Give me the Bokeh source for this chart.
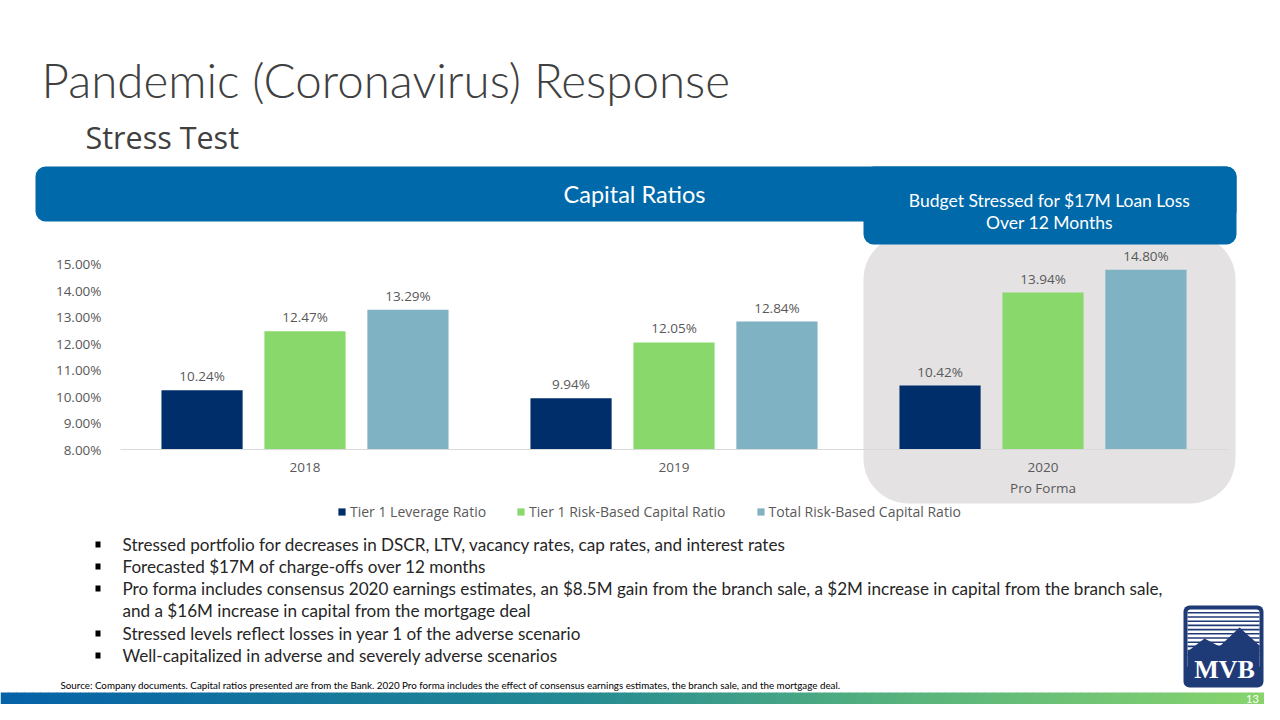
from bokeh.plotting import figure
from bokeh.models import (ColumnDataSource, Range1d, FixedTicker, PrintfTickFormatter, LinearAxis,
                          LabelSet, Label, BoxAnnotation, PolyAnnotation, Legend, LegendItem)
from bokeh.transform import dodge
from bokeh.core.properties import value
from bokeh.embed import file_html
from bokeh.resources import INLINE

# ---------------- data ----------------
years = ["2018", "2019", "2020\nPro Forma"]
series_names = ["Tier 1 Leverage Ratio", "Tier 1 Risk-Based Capital Ratio", "Total Risk-Based Capital Ratio"]
tier1_leverage = [10.24, 9.94, 10.42]
tier1_risk_based = [12.47, 12.05, 13.94]
total_risk_based = [13.29, 12.84, 14.80]
y_ticks = [8, 9, 10, 11, 12, 13, 14, 15]

title_text = "Pandemic (Coronavirus) Response"
subtitle_text = "Stress Test"
banner_text = "Capital Ratios"
callout_lines = ["Budget Stressed for $17M Loan Loss", "Over 12 Months"]
bullets = [
    ["Stressed portfolio for decreases in DSCR, LTV, vacancy rates, cap rates, and interest rates"],
    ["Forecasted $17M of charge-offs over 12 months"],
    ["Pro forma includes consensus 2020 earnings estimates, an $8.5M gain from the branch sale, a $2M increase in capital from the branch sale,",
     "and a $16M increase in capital from the mortgage deal"],
    ["Stressed levels reflect losses in year 1 of the adverse scenario"],
    ["Well-capitalized in adverse and severely adverse scenarios"],
]
footnote_text = ("Source: Company documents. Capital ratios presented are from the Bank. 2020 Pro forma includes "
                 "the effect of consensus earnings estimates, the branch sale, and the mortgage deal.")
page_number = "13"
logo_text = "MVB"

# ---------------- styles / geometry ----------------
C_DARK = "#002E6B"
C_GREEN = "#88D86B"
C_TEAL = "#7FB2C2"
C_BLUE = "#0069AA"
C_GREY = "#E4E2E3"
C_TXT = "#595959"
NAVY = "#1F3B77"
SANS = "Open Sans"
BODY = "Lato"

W, H = 1264, 704
CAT_W = 369.0          # px per category
PLOT_LEFT = 120.0      # canvas x of the chart's left edge
AXIS_Y = 449.0         # canvas y of the 8% baseline
PX_PER = 26.43         # px per percentage point
Y0 = 8

x_start = -0.5 - PLOT_LEFT / CAT_W
x_end = x_start + W / CAT_W
y_start = Y0 - (H - AXIS_Y) / PX_PER
y_end = Y0 + AXIS_Y / PX_PER

p = figure(width=W, height=H, x_range=Range1d(x_start, x_end), y_range=Range1d(y_start, y_end),
           output_backend="svg", toolbar_location=None, tools="",
           x_axis_type=None, y_axis_type=None,
           min_border=0, min_border_left=0, min_border_right=0, min_border_top=0, min_border_bottom=0)
p.background_fill_color = "white"
p.border_fill_color = "white"
p.outline_line_color = None

UNITS = "canvas"


def box(l, t, r, b, color, radius=0, level="annotation"):
    p.add_layout(BoxAnnotation(left=l, right=r, top=t, bottom=b,
                               left_units=UNITS, right_units=UNITS, top_units=UNITS, bottom_units=UNITS,
                               fill_color=color, fill_alpha=1, line_color=None, border_radius=radius,
                               level=level))


def txt(x, y, s, size, color, font=SANS, align="left", style="normal"):
    p.add_layout(Label(x=x, y=y, x_units=UNITS, y_units=UNITS, text=s,
                       text_font=font, text_font_size=size, text_color=color,
                       text_align=align, text_baseline="middle", text_font_style=style))


# ---------------- decorations ----------------
box(863, 234, 1235, 503, C_GREY, radius=45, level="underlay")   # grey pro-forma panel
box(35, 166, 1236, 221, C_BLUE, radius=10)                      # header banner
box(863, 166, 1236, 244, C_BLUE, radius=10)                     # call-out box

txt(41, 79, title_text, "47.5px", "#404040", font="Lato Light, Lato")
txt(85, 136, subtitle_text, "30.5px", "#404040")
txt(634, 193, banner_text, "23.5px", "white", font=BODY, align="center")
txt(1049, 200, callout_lines[0], "17.5px", "white", font=BODY, align="center")
txt(1049, 222, callout_lines[1], "17.5px", "white", font=BODY, align="center")

# ---------------- chart ----------------
src = ColumnDataSource(dict(
    idx=list(range(len(years))),
    t1l=tier1_leverage, t1r=tier1_risk_based, tot=total_risk_based,
    t1l_lbl=[f"{v:.2f}%" for v in tier1_leverage],
    t1r_lbl=[f"{v:.2f}%" for v in tier1_risk_based],
    tot_lbl=[f"{v:.2f}%" for v in total_risk_based],
))

offsets = [-0.279, 0.0, 0.279]
cols = ["t1l", "t1r", "tot"]
colors = [C_DARK, C_GREEN, C_TEAL]
renderers = []
for off, col, c in zip(offsets, cols, colors):
    r = p.vbar(x=dodge("idx", off), top=col, bottom=Y0, width=0.22,
               source=src, fill_color=c, line_color=None)
    renderers.append(r)
for off, col in zip(offsets, cols):
    p.add_layout(LabelSet(x=dodge("idx", off), y=col, text=col + "_lbl", source=src,
                          text_align="center", text_baseline="bottom", y_offset=5,
                          text_font=value(SANS), text_font_size=value("13.5px"),
                          text_color=C_TXT))

yaxis = LinearAxis(ticker=FixedTicker(ticks=y_ticks), formatter=PrintfTickFormatter(format="%.2f%%"),
                   fixed_location=-0.5, axis_line_color=None, major_tick_line_color=None,
                   minor_tick_line_color=None, major_label_standoff=13,
                   major_label_text_font=SANS, major_label_text_font_size="13.5px",
                   major_label_text_color=C_TXT)
p.add_layout(yaxis, "left")

xaxis = LinearAxis(ticker=FixedTicker(ticks=list(range(len(years)))),
                   major_label_overrides={i: y for i, y in enumerate(years)},
                   fixed_location=Y0, bounds=(-0.5, len(years) - 0.5),
                   axis_line_color="#D9D9D9", major_tick_line_color=None, minor_tick_line_color=None,
                   major_label_standoff=2, major_label_text_font=SANS,
                   major_label_text_font_size="13.5px", major_label_text_color=C_TXT,
                   major_label_text_line_height=1.2)
p.add_layout(xaxis, "below")

legend = Legend(items=[LegendItem(label=n, renderers=[r]) for n, r in zip(series_names, renderers)],
                location=(337, H - 521), orientation="horizontal", padding=0, margin=0, spacing=30,
                label_standoff=4, glyph_width=9, glyph_height=9, label_height=14,
                label_text_font=SANS, label_text_font_size="14px", label_text_color=C_TXT,
                border_line_color=None, background_fill_alpha=0)
p.add_layout(legend)

# ---------------- bullets & footnote ----------------
line_y = [544, 566, 588, 610, 633, 655]
i = 0
for b in bullets:
    for j, line in enumerate(b):
        y = line_y[i]
        if j == 0:
            box(95, y - 3, 100, y + 3, "black")
        txt(122, y, line, "17.1px", "#262626", font=BODY)
        i += 1

txt(60, 684, footnote_text, "9.8px", "black", font=BODY)

# ---------------- bottom gradient bar ----------------
stops = [(0.0, (5, 98, 168)), (0.45, (36, 138, 146)), (0.7, (86, 178, 126)), (1.0, (138, 214, 108))]


def grad(t):
    for (t0, c0), (t1, c1) in zip(stops[:-1], stops[1:]):
        if t <= t1:
            f = (t - t0) / (t1 - t0)
            return "#%02x%02x%02x" % tuple(int(round(a + (b - a) * f)) for a, b in zip(c0, c1))
    return "#%02x%02x%02x" % stops[-1][1]


STRIP = 8
for k in range(W // STRIP):
    x0 = k * STRIP
    box(x0, 692, x0 + STRIP + 0.6, H, grad((x0 + STRIP / 2) / 1280))
txt(1252, 698, page_number, "11px", "white", font=BODY, align="center")

# ---------------- logo ----------------
LX = 1183
box(LX, 605, LX + 80, 687, NAVY, radius=6)
box(LX + 4, 609, LX + 76, 668, "white", radius=3)
yy = 611.5
while yy < 654:
    box(LX + 4, yy, LX + 76, yy + 1.6, NAVY)
    yy += 4.2
p.add_layout(PolyAnnotation(xs=[LX + v for v in [4, 21, 36, 56, 76, 76, 4]],
                            ys=[651, 638, 646, 627, 645, 684, 684],
                            xs_units=UNITS, ys_units=UNITS, fill_color=NAVY, fill_alpha=1, line_color=None))
txt(LX + 41, 669, logo_text, "26px", "white", font="Liberation Serif", align="center", style="bold")

open("out.html", "w").write(file_html(p, INLINE))
